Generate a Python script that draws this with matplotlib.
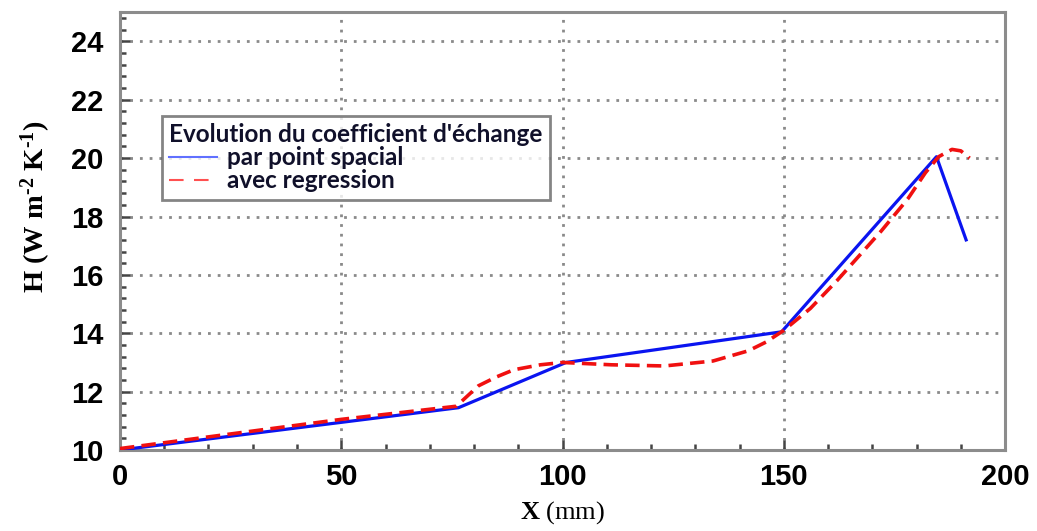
import matplotlib
matplotlib.use("Agg")
import matplotlib.pyplot as plt
from matplotlib.lines import Line2D
from matplotlib.ticker import MultipleLocator

plt.rcParams['mathtext.fontset'] = 'custom'
plt.rcParams['mathtext.rm'] = 'Liberation Serif'
plt.rcParams['mathtext.it'] = 'Liberation Serif:italic'
plt.rcParams['mathtext.bf'] = 'Liberation Serif:bold'

# par point spacial
x_pt = [0, 76.5, 100.8, 149.5, 184.5, 191.2]
h_pt = [10.0, 11.45, 13.0, 14.05, 20.05, 17.2]

# avec regression
x_reg = [0, 25, 50, 76, 81, 85, 89, 95, 100, 111, 123, 134, 142, 146, 150,
         156, 162, 167, 172, 178, 182, 185, 188, 190, 192]
h_reg = [10.05, 10.55, 11.05, 11.5, 12.2, 12.5, 12.75, 12.92, 13.0, 12.92, 12.88,
         13.05, 13.4, 13.7, 14.1, 14.85, 15.8, 16.65, 17.5, 18.6, 19.5, 20.05,
         20.3, 20.25, 20.0]

legend_title = "Evolution du coefficient d'échange"
labels = ["par point spacial", "avec regression"]

fig = plt.figure(figsize=(10.37, 5.31), dpi=100)
ax = fig.add_axes([0.1157, 0.1525, 0.8535, 0.8245])

ax.plot(x_pt, h_pt, color='#0a14f0', lw=2.3, zorder=3)
ax.plot(x_reg, h_reg, color='#f01010', lw=2.6, dashes=(4, 2), zorder=4)

ax.set_xlim(0, 200)
ax.set_ylim(10, 25)
ax.xaxis.set_major_locator(MultipleLocator(50))
ax.xaxis.set_minor_locator(MultipleLocator(10))
ax.yaxis.set_major_locator(MultipleLocator(2))
ax.yaxis.set_minor_locator(MultipleLocator(0.4))
ax.tick_params(which='both', direction='in', color='#444444', top=False, right=False)
ax.tick_params(which='major', length=7, width=1.8)
ax.tick_params(which='minor', length=4, width=1.8)
ax.tick_params(axis='y', labelsize=21, pad=12)
ax.tick_params(axis='x', labelsize=21, pad=9)
for lab in ax.get_xticklabels() + ax.get_yticklabels():
    lab.set_fontfamily('Liberation Sans')
    lab.set_fontweight('bold')

ax.grid(True, which='major', linestyle=(0, (1, 2.5)), color='#8a8a8a', lw=2)
for sp in ax.spines.values():
    sp.set_color('#8c8c8c')
    sp.set_linewidth(2.2)

ax.set_ylabel('H (W m$^{\\mathbf{\u2010 2}}$ K$^{\\mathbf{\u2010 1}}$)', family='Liberation Serif',
              fontsize=20.5, fontweight='bold')
ax.yaxis.set_label_coords(-0.076, 0.555)
ax.set_xlabel(r'$\mathbf{X}$ (mm)', family='Liberation Serif', fontsize=19, va='center')
ax.xaxis.set_label_coords(0.5, -0.142)

handles = [Line2D([], [], color='#6070ff', lw=1.5),
           Line2D([], [], color='#ff5050', lw=1.5, dashes=(7, 5))]
leg = ax.legend(handles, labels, title=legend_title, loc='upper left',
                bbox_to_anchor=(0.047, 0.763), frameon=True, fancybox=False,
                prop={'family': 'Lato', 'weight': 'bold', 'size': 17.5},
                title_fontproperties={'family': 'Lato', 'weight': 'bold', 'size': 17.5},
                alignment='left', handlelength=2.0, handletextpad=0.4,
                borderpad=0.3, labelspacing=0.0, borderaxespad=0)
leg.get_frame().set_edgecolor('#666666')
leg.get_frame().set_linewidth(2)
for t in leg.get_texts():
    t.set_color('#10102a')
leg.get_title().set_color('#10102a')

fig.savefig('out.png', dpi=100)
